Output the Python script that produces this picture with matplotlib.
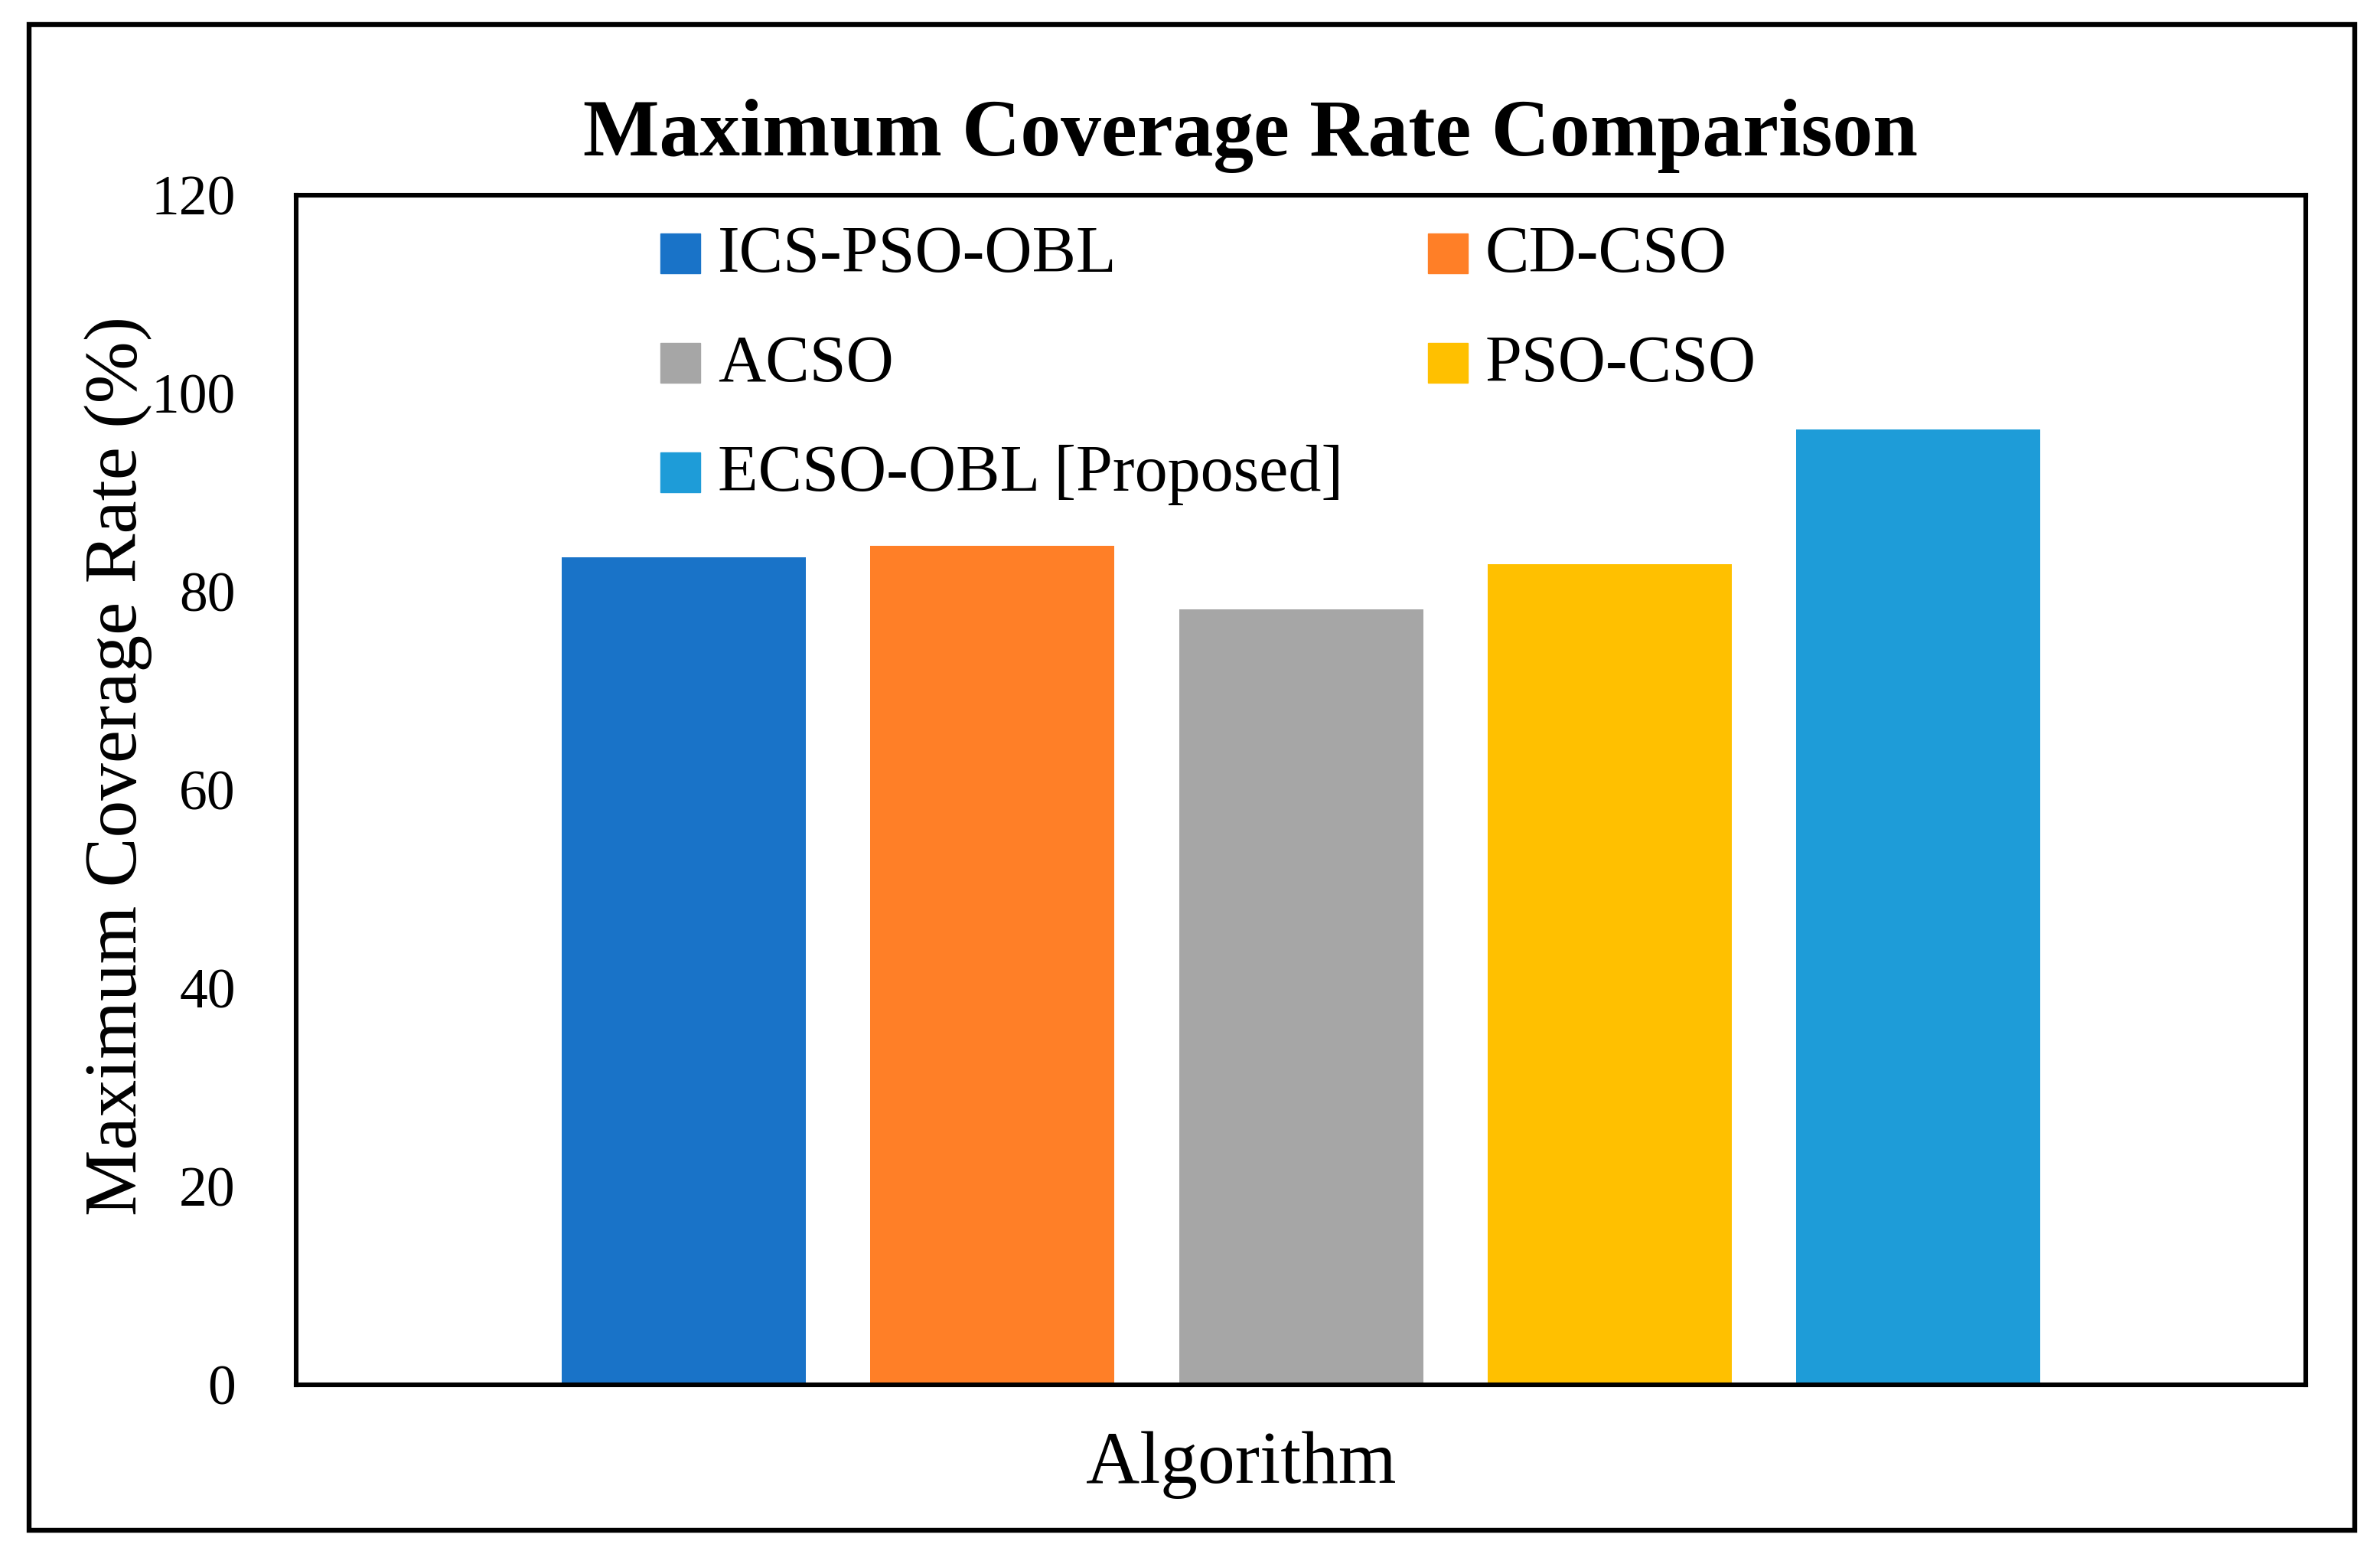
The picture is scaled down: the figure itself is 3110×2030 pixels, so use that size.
import matplotlib
matplotlib.use("Agg")
import matplotlib.pyplot as plt
from matplotlib.patches import Rectangle

# data
algorithms = ["ICS-PSO-OBL", "CD-CSO", "ACSO", "PSO-CSO", "ECSO-OBL [Proposed]"]
coverage = [83.5, 84.6, 78.2, 82.8, 96.4]
colors = ["#1973C8", "#FF7F27", "#A6A6A6", "#FFC000", "#1E9CD8"]
y_ticks = [0, 20, 40, 60, 80, 100, 120]

W, H = 3110, 2030
plt.rcParams["font.family"] = ["Liberation Serif", "DejaVu Serif"]

fig = plt.figure(figsize=(W / 100, H / 100), dpi=100)


def fx(px):
    return px / W


def fy(py):
    return 1 - py / H


# plot area (pixel box of the reference)
left, right, top, bottom = 387, 3013, 255, 1809
ax = fig.add_axes([fx(left), fy(bottom), fx(right - left), (bottom - top) / H])

x = list(range(len(algorithms)))
ax.bar(x, coverage, width=0.791, color=colors, zorder=2)

ax.set_xlim(-1.256, 5.255)
ax.set_ylim(0, 120)
ax.set_yticks(y_ticks)
ax.set_xticks([])
ax.tick_params(axis="y", length=0, pad=57, labelsize=53)
for s in ax.spines.values():
    s.set_linewidth(4.4)
    s.set_color("black")
    s.set_zorder(3)

# legend drawn by hand, two columns, Excel-like
col_x = [863, 1866]
row_y = [305, 448, 591]
box = 52
for i, (name, c) in enumerate(zip(algorithms, colors)):
    px = col_x[i % 2]
    py = row_y[i // 2]
    fig.patches.append(Rectangle((fx(px), fy(py + box)), box / W, box / H,
                                 transform=fig.transFigure, color=c))
    fig.text(fx(px + 75), fy(py + 50), name, fontsize=62,
             ha="left", va="baseline")

# titles
fig.text(fx(1634), fy(202.6), "Maximum Coverage Rate Comparison",
         fontsize=76, fontweight="bold", ha="center", va="baseline")
fig.text(fx(1622), fy(1936.7), "Algorithm", fontsize=70,
         ha="center", va="baseline")
fig.text(fx(178), fy(1000), "Maximum Coverage Rate (%)", fontsize=70,
         rotation=90, rotation_mode="anchor", ha="center", va="baseline")

# outer chart border
fig.patches.append(Rectangle((fx(38), fy(1999)), (3077 - 38) / W, (1999 - 32) / H,
                             transform=fig.transFigure, fill=False,
                             edgecolor="black", linewidth=4.6))

fig.savefig("out.png", dpi=100)
